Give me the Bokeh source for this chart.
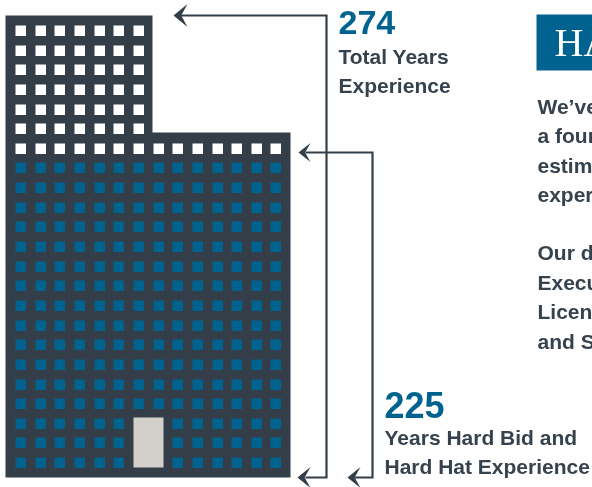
from bokeh.plotting import figure
from bokeh.models import Range1d
from bokeh.core.properties import value
from bokeh.embed import file_html
from bokeh.resources import INLINE

DARK = "#333e48"
BLUE = "#00628f"
DOOR = "#d3cfcb"
TEXT = "#36424d"

# pictogram: rows of windows, with the number of columns lit in each band
upper_rows = [0, 1, 2, 3, 4, 5]
upper_cols = list(range(7))
white_row = 6
lower_rows = list(range(7, 23))
all_cols = list(range(14))
door_cols = [6, 7]
door_rows = [20, 21, 22]

totals = ["274", "225"]
labels_total = ["Total Years", "Experience"]
labels_hard = ["Years Hard Bid and", "Hard Hat Experience"]
body_bold = ["We\u2019ve", "Our d"]
body_regular = ["a four", "estim", "exper", "Execu", "Licens", "and S"]

X0, Y0, DX, DY, S = 15.0, 25.0, 19.65, 19.64, 10.5

p = figure(width=592, height=487, output_backend="svg", toolbar_location=None,
           x_range=Range1d(0, 592), y_range=Range1d(487, 0), min_border=0,
           outline_line_color=None, margin=0,
           styles={"position": "fixed", "left": "0px", "top": "0px"})
p.axis.visible = False
p.grid.visible = False
p.background_fill_color = "white"
p.border_fill_color = "white"

# building
p.patch([5, 152, 152, 290, 290, 5], [15, 15, 132, 132, 477, 477], fill_color=DARK, line_color=None)

def windows(rows, cols, color, skip=()):
    xs, ys = [], []
    for r in rows:
        for c in cols:
            if (r, c) in skip:
                continue
            xs.append(round(X0 + DX * c))
            ys.append(round(Y0 + DY * r))
    p.quad(left=xs, right=[x + S for x in xs], top=ys, bottom=[y + S for y in ys],
           fill_color=color, line_color=None)

windows(upper_rows, upper_cols, "white")
windows([white_row], all_cols, "white")
windows(lower_rows, all_cols, BLUE, skip={(r, c) for r in door_rows for c in door_cols})
p.quad(left=[133], right=[163], top=[417], bottom=[467], fill_color=DOOR, line_color=None)

# connector lines
p.multi_line([[180, 326, 326, 305], [305, 372, 372, 354]],
             [[15, 15, 477, 477], [152, 152, 477, 477]], line_color=DARK, line_width=2.2,
             line_join="miter")

def head(x, y, l, h):
    return ([x, x + l, x + l * 0.55, x + l], [y, y - h, y, y + h])

heads = [head(173, 15, 14, 11.5), head(298, 152, 12, 9.5), head(297, 477, 13, 10.5), head(347, 477, 13, 10.5)]
p.patches([h[0] for h in heads], [h[1] for h in heads], fill_color=DARK, line_color=None)

# right panel
p.quad(left=[536], right=[592], top=[14], bottom=[70], fill_color=BLUE, line_color=None)
BASE_SHIFT = 0.38
p.text([554], [57 - BASE_SHIFT * 40], text=["HA"], text_font=value("Liberation Serif"), text_font_size="40px",
       text_color="white", text_baseline="alphabetic")

def label(x, y, strings, size, color, style="bold"):
    p.text(x, [v - BASE_SHIFT * size for v in y], text=strings, text_font=value("Liberation Sans"),
           text_font_size=f"{size}px", text_color=color, text_font_style=style,
           text_baseline="alphabetic", text_align="left")

label([338], [35], [totals[0]], 34, BLUE)
label([384], [418], [totals[1]], 36, BLUE)
label([338, 338], [64, 93], labels_total, 21, TEXT)
label([384, 384], [445, 474], labels_hard, 21, TEXT)
label([537, 537], [114, 260], body_bold, 21, TEXT)
label([537, 537, 537, 537, 537, 537], [143, 173, 202, 290, 319, 349], body_regular, 21, TEXT)

open("out.html", "w").write(file_html(p, INLINE))
